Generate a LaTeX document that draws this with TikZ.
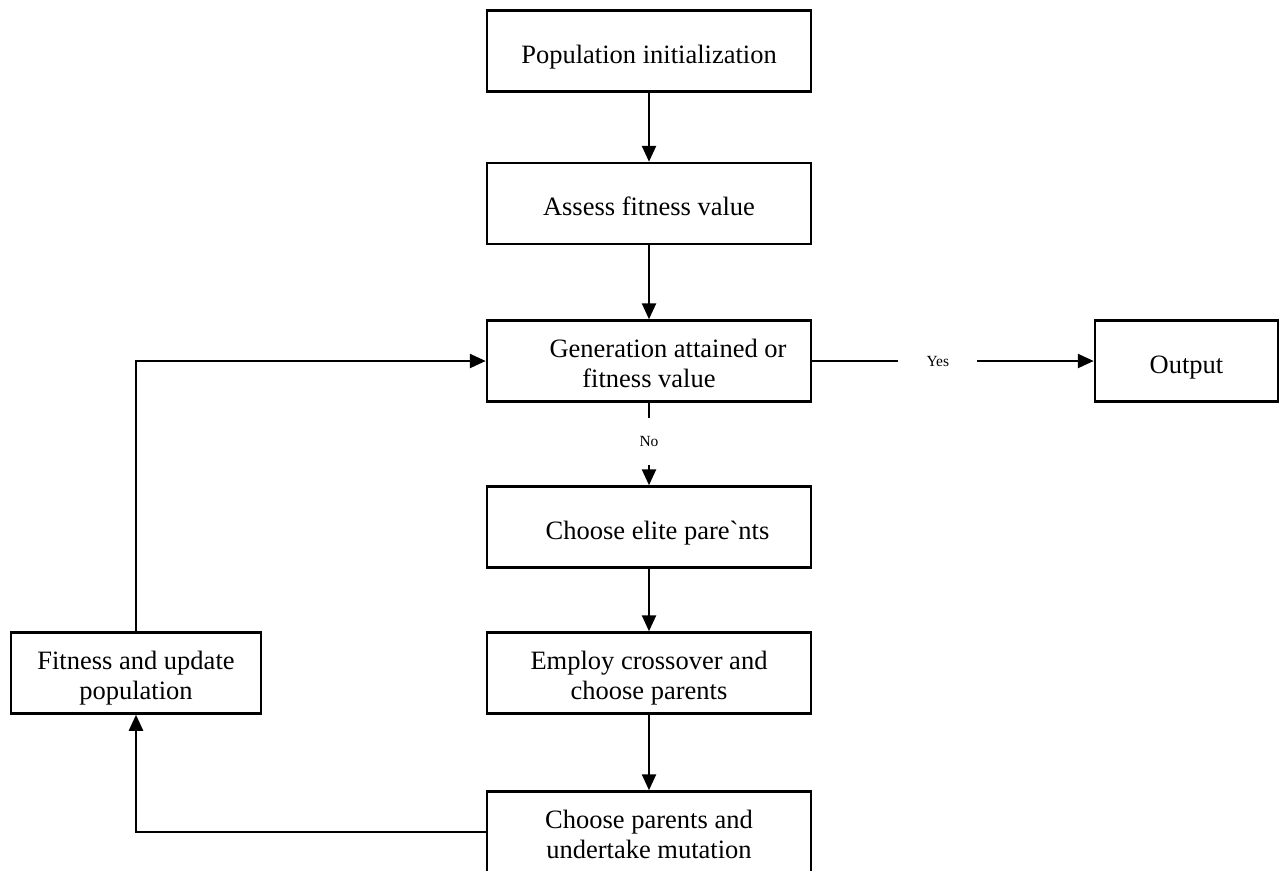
\documentclass[tikz,border=0pt]{standalone}
\usepackage{fontspec}
\setmainfont{Liberation Serif}
\newfontfamily\gravefont{Liberation Serif}
\usetikzlibrary{arrows.meta}
\newcommand{\topstrut}{\rule{0pt}{28pt}}
\begin{document}
\begin{tikzpicture}[x=1pt,y=-1pt,
  box/.style={draw, line width=2.5pt, minimum width=324pt, minimum height=81pt,
    align=center, inner sep=0pt, font=\fontsize{26.5}{30}\selectfont,
    execute at begin node={\rule{0pt}{30.5pt}},
    execute at end node={\rule[-6pt]{0pt}{6pt}}},
  arr/.style={line width=2.5pt, -{Triangle[length=16pt,width=14pt]}},
  lbl/.style={fill=white, inner sep=0pt, font=\fontsize{15.5}{18}\selectfont}]
\clip (0,0) rectangle (1279,870);
\node[box] (pop) at (649,51) {Population initialization};
\node[box] (assess) at (649,203.5) {Assess fitness value};
\node[box] (gen) at (649,361) {\topstrut\hspace*{38pt}Generation attained or\\fitness value};
\node[box, minimum width=183pt] (out) at (1186.5,361) {Output};
\node[box] (elite) at (649,527) {\hspace*{17pt}Choose elite pare{\gravefont`}nts};
\node[box] (employ) at (649,673) {\topstrut Employ crossover and\\choose parents};
\node[box] (mut) at (649,832) {\topstrut Choose parents and\\undertake mutation};
\node[box, minimum width=250pt] (fit) at (136,673) {\topstrut Fitness and update\\population};
\draw[arr] (pop) -- (assess);
\draw[arr] (assess) -- (gen);
\draw[arr] (gen) -- node[lbl, pos=0.446, minimum width=79pt, minimum height=20pt] {Yes} (out);
\draw[arr] (gen) -- node[lbl, pos=0.465, minimum height=47pt, minimum width=30pt] {No} (elite);
\draw[arr] (elite) -- (employ);
\draw[arr] (employ) -- (mut);
\draw[arr] (mut.west) -| (fit.south);
\draw[arr] (fit.north) |- (gen.west);
\end{tikzpicture}
\end{document}
